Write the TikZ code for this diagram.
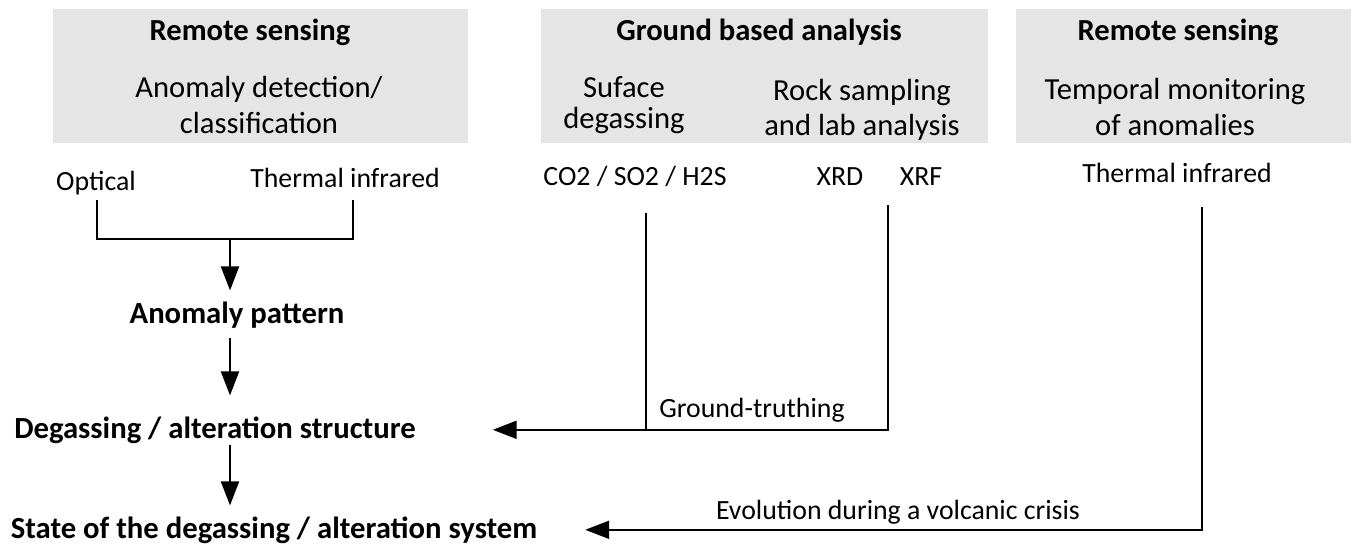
\documentclass[tikz,border=0pt]{standalone}
\usepackage{fontspec}
\setmainfont{Carlito}
\usetikzlibrary{arrows.meta}
\tikzstyle{every node}=[inner sep=0pt, anchor=base]
\tikzstyle{head}=[font=\bfseries\fontsize{30.6}{34}\selectfont]
\tikzstyle{sub}=[font=\fontsize{30.6}{36}\selectfont, align=center]
\tikzstyle{txt}=[font=\fontsize{27.8}{36}\selectfont, align=center]
\tikzstyle{result}=[font=\bfseries\fontsize{30.7}{34}\selectfont]
\tikzstyle{panel}=[fill=gray!20, anchor=center]
\tikzstyle{arr}=[-{Triangle[length=24pt, width=18pt]}]

\begin{document}
\begin{tikzpicture}[x=1pt, y=-1pt, line width=2pt]
\useasboundingbox (0,0) rectangle (1351,546);
% Grey panels
    \node[panel, minimum width=415pt, minimum height=134pt] (pnlA) at (260.5,76) {};
    \node[panel, minimum width=447pt, minimum height=134pt] (pnlB) at (764.5,76) {};
    \node[panel, minimum width=335pt, minimum height=134pt] (pnlC) at (1183.5,76) {};
% Panel texts (multi-line nodes sit on their last line)
    \node[head] (rsA) at (250,40) {Remote sensing};
    \node[sub] (detect) at (259,133) {Anomaly detection/\\classification};
    \node[head] (ground) at (759,40) {Ground based analysis};
    \node[sub, font=\fontsize{30.6}{31}\selectfont] (suface) at (624,128) {Suface\\degassing};
    \node[sub, font=\fontsize{30.6}{35}\selectfont] (rock) at (862,135) {Rock sampling\\and lab analysis};
    \node[head] (rsC) at (1178,40) {Remote sensing};
    \node[sub] (temporal) at (1175,135) {Temporal monitoring\\of anomalies};
% Data sources
    \node[txt] (optical) at (96,190) {Optical};
    \node[txt] (tirA) at (345,187) {Thermal infrared};
    \node[txt] (gas) at (635,185) {CO2 / SO2 / H2S};
    \node[txt] (xrd) at (840,185) {XRD};
    \node[txt] (xrf) at (921,185) {XRF};
    \node[txt] (tirC) at (1177,182) {Thermal infrared};
% Results
    \node[result] (pattern) at (237,323) {Anomaly pattern};
    \node[result] (structure) at (215,438) {Degassing / alteration structure};
    \node[result] (state) at (274,538) {State of the degassing / alteration system};
% Line ends
    \coordinate (optEnd) at (97,200);
    \coordinate (tirEnd) at (353,200);
    \coordinate (joint) at (230,239);
    \coordinate (gasEnd) at (646,213);
    \coordinate (xrfEnd) at (888,205);
    \coordinate (tirCEnd) at (1202,207);
% Connectors
    \draw (optEnd) -- (optEnd |- joint) -- (tirEnd |- joint) -- (tirEnd);
    \draw[arr, shorten >=10pt] (joint) -- (joint |- pattern.north);
    \draw[arr, shorten <=9pt, shorten >=20pt] (joint |- pattern.south) -- (joint |- structure.north);
    \draw[arr, shorten <=1pt, shorten >=10pt] (joint |- structure.south) -- (joint |- state.north);
    \draw[arr, shorten >=76pt] (xrfEnd) |- (structure.east);
    \draw (gasEnd) -- (gasEnd |- structure.east);
    \draw[arr, shorten >=47pt] (tirCEnd) |- (state.east);
% Connector labels
    \node[txt] (truth) at (752,417) {Ground-truthing};
    \node[txt] (evolution) at (898,519) {Evolution during a volcanic crisis};
\end{tikzpicture}
\end{document}
